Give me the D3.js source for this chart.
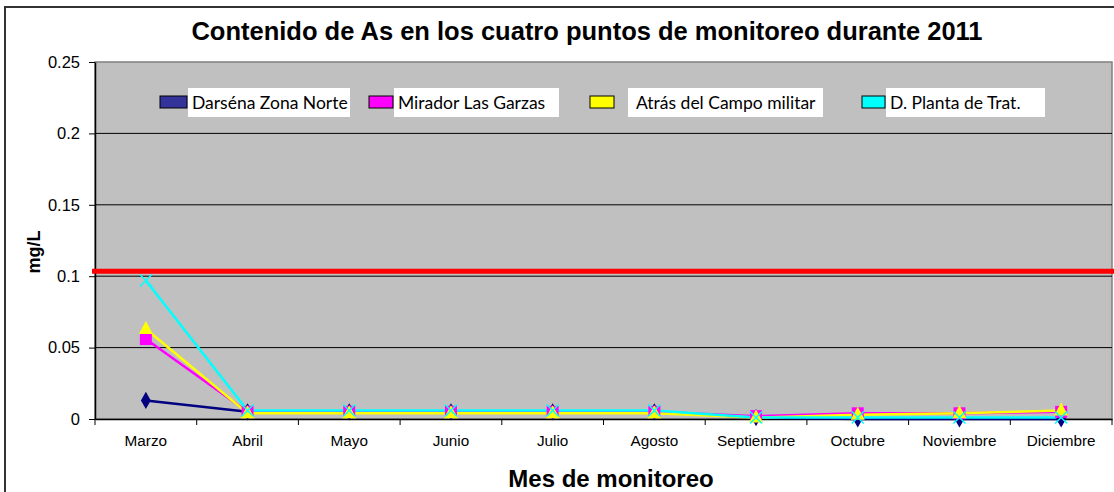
<!DOCTYPE html>
<html><head><meta charset="utf-8">
<script src="https://cdn.jsdelivr.net/npm/d3@7"></script>
<style>body{margin:0;background:#fff}svg{display:block}</style>
</head><body>
<script>
const months = ["Marzo","Abril","Mayo","Junio","Julio","Agosto","Septiembre","Octubre","Noviembre","Diciembre"];
const darsena = [0.013,0.005,0.005,0.005,0.005,0.005,0.001,0.0,0.0,0.0];
const mirador = [0.056,0.005,0.005,0.005,0.005,0.005,0.002,0.004,0.004,0.005];
const atras   = [0.063,0.004,0.004,0.004,0.004,0.004,0.001,0.003,0.004,0.006];
const planta  = [0.097,0.006,0.006,0.006,0.006,0.006,0.001,0.001,0.001,0.001];
const yTicks = [0,0.05,0.1,0.15,0.2,0.25];
const limit = 0.1035;
const seriesNames = ["Darséna Zona Norte","Mirador Las Garzas","Atrás del Campo militar","D. Planta de Trat."];

const W=1114,H=492;
const svg=d3.select("body").append("svg").attr("width",W).attr("height",H);
svg.append("rect").attr("x",5).attr("y",7).attr("width",1120).attr("height",500)
  .attr("fill","#fff").attr("stroke","#333").attr("stroke-width",2);

const L=95,R=1112,T=62,B=419;
const x=d3.scaleBand().domain(months).range([L,R]);
const y=d3.scaleLinear().domain([0,0.25]).range([B,T]);

svg.append("rect").attr("x",L).attr("y",T).attr("width",R-L).attr("height",B-T)
  .attr("fill","#c0c0c0").attr("stroke","#808080").attr("stroke-width",1.5);

// grid
svg.append("g").selectAll("line").data(yTicks.filter(d=>d>0&&d<0.25)).join("line")
  .attr("x1",L).attr("x2",R).attr("y1",d=>y(d)).attr("y2",d=>y(d))
  .attr("stroke","#000").attr("stroke-width",1);

// axes
const ya=svg.append("g").attr("transform",`translate(${L},0)`)
  .call(d3.axisLeft(y).tickValues(yTicks).tickSize(6).tickSizeOuter(0).tickFormat(d=>d3.format("")(+d.toFixed(2))));
const xa=svg.append("g").attr("transform",`translate(0,${B})`)
  .call(d3.axisBottom(x).tickSize(0).tickSizeOuter(0));
[ya,xa].forEach(a=>{a.attr("font-size",null);a.selectAll("text").attr("font-family","Liberation Sans, Arial").attr("fill","#000");
  a.select(".domain").attr("stroke","#000").attr("stroke-width",1.5);
  a.selectAll(".tick line").attr("stroke","#000");});
ya.selectAll("text").attr("x",-15).attr("font-size",16.5);
xa.selectAll("text").attr("font-size",15.3).attr("dy","1.55em");
// x ticks between categories
svg.append("g").selectAll("line").data(months.concat(["end"])).join("line")
  .attr("x1",(d,i)=>i<months.length?x(d):R).attr("x2",(d,i)=>i<months.length?x(d):R)
  .attr("y1",B).attr("y2",B+6).attr("stroke","#000");

// limit line
svg.append("line").attr("x1",L-3).attr("x2",R+2).attr("y1",y(limit)).attr("y2",y(limit))
  .attr("stroke","#ff0000").attr("stroke-width",5);

const cx=d=>x(d)+x.bandwidth()/2;
const series=[
  {name:seriesNames[0],vals:darsena,color:"#000080",sw:"#333399",marker:"diamond"},
  {name:seriesNames[1],vals:mirador,color:"#ff00ff",sw:"#ff00ff",marker:"square"},
  {name:seriesNames[2],vals:atras,color:"#ffff00",sw:"#ffff00",marker:"triangle"},
  {name:seriesNames[3],vals:planta,color:"#00ffff",sw:"#00ffff",marker:"x"}
];
const line=d3.line().x((d,i)=>cx(months[i])).y(d=>y(d));
series.forEach(s=>{
  svg.append("path").datum(s.vals).attr("d",line).attr("fill","none")
    .attr("stroke",s.color).attr("stroke-width",2.5);
});
series.forEach(s=>{
  const g=svg.append("g");
  s.vals.forEach((v,i)=>{
    const px=cx(months[i]),py=y(v);
    if(s.marker==="diamond"){
      g.append("path").attr("d",d3.symbol(d3.symbolDiamond,85)()).attr("transform",`translate(${px},${py})`).attr("fill",s.color);
    } else if(s.marker==="square"){
      g.append("rect").attr("x",px-6).attr("y",py-6).attr("width",12).attr("height",12).attr("fill",s.color);
    } else if(s.marker==="triangle"){
      g.append("path").attr("d",`M${px},${py-8}L${px+7},${py+5}L${px-7},${py+5}Z`).attr("fill",s.color);
    } else {
      g.append("path").attr("d",`M${px-6},${py-6}L${px+6},${py+6}M${px-6},${py+6}L${px+6},${py-6}`)
        .attr("stroke",s.color).attr("stroke-width",1.5);
    }
  });
});

// legend
const legPos=[{sx:160,bx:188,bw:162},{sx:369,bx:394,bw:165},{sx:590,bx:628,bw:195},{sx:862,bx:886,bw:159}];
series.forEach((s,i)=>{
  const p=legPos[i];
  svg.append("rect").attr("x",p.sx).attr("y",96).attr("width",p.bx-p.sx-(i===2?14:1)).attr("height",12)
    .attr("fill",s.sw).attr("stroke","#000").attr("stroke-width",1);
  svg.append("rect").attr("x",p.bx).attr("y",88).attr("width",p.bw).attr("height",29).attr("fill","#fff");
  svg.append("text").attr("x",p.bx+(i===2?8:4)).attr("y",109).attr("font-family","Lato, Open Sans, sans-serif")
    .attr("font-size",17.5).attr("fill","#000").text(s.name);
});

// titles
svg.append("text").attr("x",587).attr("y",40).attr("text-anchor","middle")
  .attr("font-family","Liberation Sans, Arial").attr("font-weight","bold").attr("font-size",25.5)
  .text("Contenido de As en los cuatro puntos de monitoreo durante 2011");
svg.append("text").attr("transform","translate(40,252) rotate(-90)").attr("text-anchor","middle")
  .attr("font-family","Liberation Sans, Arial").attr("font-weight","bold").attr("font-size",18).text("mg/L");
svg.append("text").attr("x",611).attr("y",487).attr("text-anchor","middle")
  .attr("font-family","Liberation Sans, Arial").attr("font-weight","bold").attr("font-size",24).text("Mes de monitoreo");
</script>
</body></html>
